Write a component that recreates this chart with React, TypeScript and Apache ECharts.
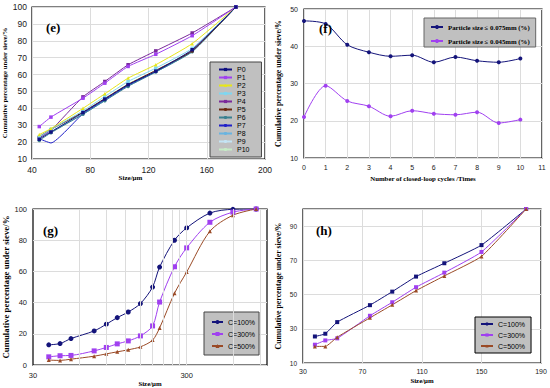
import React, { useEffect, useRef } from 'react';
import * as echarts from 'echarts';

// ---------- data ----------
// (e) sieve sizes (µm) and cumulative passing (%)
const sizesE = [45, 53, 75, 90, 106, 125, 150, 180];
const namesE = ['P0', 'P1', 'P2', 'P3', 'P4', 'P5', 'P6', 'P7', 'P8', 'P9', 'P10'];
const eP0 = [21.7, 26.0, 37.5, 45.5, 54.0, 62.0, 74.7, 100];
const eP1 = [29.2, 34.8, 46.0, 54.9, 64.8, 72.0, 83.0, 100];
const eP2 = [24.5, 28.0, 40.0, 48.6, 57.9, 65.8, 78.3, 100];
const eP3 = [23.0, 27.5, 38.5, 47.0, 55.9, 63.8, 75.5, 100];
const eP4 = [22.5, 27.0, 46.8, 55.9, 65.8, 74.0, 84.6, 100];
const eP5 = [23.2, 27.5, 37.8, 45.8, 54.2, 62.5, 74.0, 100];
const eP6 = [21.0, 25.5, 36.5, 44.5, 53.0, 61.5, 73.5, 100];
const eP7 = [22.0, 19.5, 36.8, 45.0, 53.5, 61.8, 74.0, 100];
const eP8 = [22.5, 26.0, 36.5, 44.5, 53.5, 61.5, 73.5, 100];
const eP9 = [23.0, 26.5, 37.0, 45.0, 53.8, 62.0, 74.0, 100];
const eP10 = [24.0, 27.5, 37.5, 45.5, 54.5, 62.5, 74.5, 100];

// (f) closed-loop cycles
const cycles = [0, 1, 2, 3, 4, 5, 6, 7, 8, 9, 10];
const pass075 = [46.8, 46.0, 40.4, 38.4, 37.3, 37.6, 35.7, 37.1, 36.1, 35.7, 36.7];
const pass045 = [21.0, 29.4, 25.3, 23.9, 21.2, 22.7, 21.9, 21.6, 22.3, 19.4, 20.3];
const namesF = ['Particle size \u2264 0.075mm (%)', 'Particle size \u2264 0.045mm (%)'];

// (g) log size axis
const sizesG = [38, 45, 53, 75, 90, 106, 125, 150, 180, 200, 250, 300, 425, 600, 850];
const g100 = [13.0, 13.8, 17.0, 21.9, 26.2, 30.4, 34.0, 39.4, 50.0, 62.8, 80.0, 87.9, 97.4, 99.8, 100];
const g300 = [5.3, 6.0, 6.2, 9.1, 11.3, 13.6, 15.5, 18.7, 25.1, 40.4, 63.0, 75.1, 91.5, 98.0, 100];
const g500 = [3.2, 3.0, 3.8, 5.7, 7.2, 8.5, 9.8, 11.7, 16.0, 23.8, 46.0, 59.6, 85.7, 96.0, 100];
const gTickLabels = [30, 300];
const gMinorGrid = [60, 90, 120, 150, 180, 210, 240, 270, 300, 600, 900];

// (h)
const sizesH = [38, 45, 53, 75, 90, 106, 125, 150, 180];
const h100 = [25.5, 27.1, 33.9, 43.8, 51.7, 60.5, 68.3, 78.9, 100];
const h300 = [20.7, 23.2, 24.4, 37.6, 45.5, 54.3, 62.8, 74.9, 100];
const h500 = [19.7, 19.7, 25.1, 36.4, 44.0, 52.3, 60.9, 72.3, 100];
const namesC = ['C=100%', 'C=300%', 'C=500%'];

// ---------- styles ----------
const SANS = 'Liberation Sans, Arial, sans-serif';
const SERIF = 'Liberation Serif, Times New Roman, serif';
const colorsE = ['#101080', '#a040f0', '#e6e61a', '#7fd6f0', '#7a2a9a', '#6b2a10', '#3a8090', '#2020c8', '#6ab4e0', '#c4e4f4', '#c6ecc6'];
const symbolsE = ['rect', 'rect', 'triangle', 'rect', 'rect', 'circle', 'circle', 'none', 'none', 'none', 'none'];
const NAVY = '#14147a';
const VIOLET = '#a040f0';
const BROWN = '#9a4a26';
const GRIDC = '#dcdcdc';

const zip = (xs: number[], ys: number[]) => xs.map((x, i) => [x, ys[i]]);

export default function App() {
  const ref = useRef<HTMLDivElement>(null);
  useEffect(() => {
    if (!ref.current) return;
    const chart = echarts.init(ref.current, null, { renderer: 'svg' });
    const eData = [eP0, eP1, eP2, eP3, eP4, eP5, eP6, eP7, eP8, eP9, eP10];

    const xName = (name: string, size: number, gap: number, pad: number[] = [0, 0, 0, 0]) => ({
      name, nameLocation: 'middle', nameGap: gap,
      nameTextStyle: { fontFamily: SERIF, fontWeight: 'bold', fontSize: size, color: '#000', padding: pad },
    });
    const yName = (size: number, gap: number) => ({
      name: 'Cumulative percentage under sieve/%', nameLocation: 'middle', nameGap: gap,
      nameTextStyle: { fontFamily: SERIF, fontWeight: 'bold', fontSize: size, color: '#000' },
    });
    const label = (size: number, margin: number, extra: any = {}) => ({
      fontFamily: SANS, fontSize: size, color: '#1a1a1a', margin, ...extra,
    });
    const split = { show: true, lineStyle: { color: GRIDC, width: 1 } };
    const noLine = { show: false };

    const lineSeries = (name: string, xi: number, data: number[][], color: string, symbol: string, size: number, smooth: number, z = 3) => ({
      type: 'line', name, xAxisIndex: xi, yAxisIndex: xi, data, smooth,
      symbol, symbolSize: size, showSymbol: symbol !== 'none',
      lineStyle: { color, width: 1 }, itemStyle: { color }, z,
    });

    const series: any[] = [];
    namesE.forEach((n, i) => series.push(lineSeries(n, 0, zip(sizesE, eData[i]), colorsE[i], symbolsE[i], 3.5, 0.15, 3 + (11 - i))));
    series.push(lineSeries(namesF[0], 1, zip(cycles, pass075), NAVY, 'circle', 4, 0.3));
    series.push(lineSeries(namesF[1], 1, zip(cycles, pass045), VIOLET, 'circle', 4, 0.3));
    series.push({
      type: 'line', name: 'gridlines-g', xAxisIndex: 2, yAxisIndex: 2, data: [], z: 1, silent: true,
      markLine: {
        silent: true, symbol: 'none', label: { show: false },
        lineStyle: { color: GRIDC, type: 'solid', width: 1 },
        data: gMinorGrid.map((v) => ({ xAxis: v })),
      },
    });
    series.push(lineSeries(namesC[0], 2, zip(sizesG, g100), NAVY, 'circle', 5, 0.3));
    series.push(lineSeries(namesC[1], 2, zip(sizesG, g300), VIOLET, 'rect', 5, 0.3));
    series.push(lineSeries(namesC[2], 2, zip(sizesG, g500), BROWN, 'triangle', 4, 0.3));
    series.push(lineSeries(namesC[0], 3, zip(sizesH, h100), NAVY, 'rect', 4, 0.15));
    series.push(lineSeries(namesC[1], 3, zip(sizesH, h300), VIOLET, 'rect', 4, 0.15));
    series.push(lineSeries(namesC[2], 3, zip(sizesH, h500), BROWN, 'triangle', 4, 0.15));

    const legendBase = {
      orient: 'vertical', backgroundColor: '#c0c0c0', borderColor: '#444', borderWidth: 1,
      borderRadius: 0, selectedMode: false,
    };

    const option: any = {
      animation: false,
      backgroundColor: '#ffffff',
      grid: [
        { left: 32, top: 7, width: 233, height: 152, show: true, borderColor: '#000', borderWidth: 1.2, backgroundColor: 'transparent' },
        { left: 304, top: 9, width: 238, height: 149, show: true, borderColor: '#000', borderWidth: 1.2, backgroundColor: 'transparent' },
        { left: 33, top: 209, width: 234, height: 157, show: true, borderColor: '#000', borderWidth: 1.2, backgroundColor: 'transparent' },
        { left: 303, top: 209, width: 238, height: 154, show: true, borderColor: '#000', borderWidth: 1.2, backgroundColor: 'transparent' },
      ],
      xAxis: [
        { gridIndex: 0, type: 'value', min: 40, max: 200, interval: 40, axisLine: noLine, axisTick: noLine,
          splitLine: split, axisLabel: label(8.5, 6), ...xName('Size/\u03bcm', 7, 13, [0, 36, 0, 0]) },
        { gridIndex: 1, type: 'value', min: 0, max: 11, interval: 1, axisLine: noLine, axisTick: noLine,
          splitLine: split, axisLabel: label(7, 6), ...xName('Number of closed-loop cycles /Times', 6.8, 17) },
        { gridIndex: 2, type: 'log', logBase: 10, min: 30, max: 1000, axisLine: noLine, axisTick: noLine,
          splitLine: noLine, minorSplitLine: noLine,
          axisLabel: label(7.5, 6, { customValues: gTickLabels, formatter: (v: number) => String(Math.round(v)) }),
          ...xName('Size/\u03bcm', 6.8, 13) },
        { gridIndex: 3, type: 'value', min: 30, max: 190, interval: 40, axisLine: noLine, axisTick: noLine,
          splitLine: split, axisLabel: label(7, 5), ...xName('Size/\u03bcm', 6.8, 14) },
      ],
      yAxis: [
        { gridIndex: 0, type: 'value', min: 10, max: 100, interval: 10, axisLine: noLine, axisTick: noLine,
          splitLine: split, axisLabel: label(8.5, 5), ...yName(6.8, 24) },
        { gridIndex: 1, type: 'value', min: 10, max: 50, interval: 10, axisLine: noLine, axisTick: noLine,
          splitLine: split, axisLabel: label(7, 6), ...yName(7.8, 22) },
        { gridIndex: 2, type: 'value', min: 0, max: 100, interval: 20, axisLine: noLine, axisTick: noLine,
          splitLine: split, axisLabel: label(7.5, 6), ...yName(8.8, 22) },
        { gridIndex: 3, type: 'value', min: 10, max: 100, interval: 20, axisLine: noLine, axisTick: noLine,
          splitLine: split, axisLabel: label(6.5, 6, { showMaxLabel: false }), ...yName(7.8, 21) },
      ],
      legend: [
        { ...legendBase, data: namesE, left: 210, top: 62, padding: [4, 12, 4, 8],
          itemWidth: 13, itemHeight: 4, itemGap: 1,
          textStyle: { fontFamily: SANS, fontSize: 7, lineHeight: 7, color: '#000' } },
        { ...legendBase, data: namesF, left: 424, top: 18, padding: [5, 6, 2, 6],
          itemWidth: 12, itemHeight: 5, itemGap: 6, borderColor: '#666',
          textStyle: { fontFamily: SERIF, fontWeight: 'bold', fontSize: 6.8, lineHeight: 8, color: '#000' } },
        { ...legendBase, data: namesC, left: 204, top: 312, padding: [6, 4, 5, 7],
          itemWidth: 11, itemHeight: 5, itemGap: 4,
          textStyle: { fontFamily: SANS, fontSize: 7, lineHeight: 8, color: '#000' } },
        { ...legendBase, data: namesC, left: 475, top: 317, padding: [3, 6, 3, 5],
          itemWidth: 12, itemHeight: 4, itemGap: 3, borderColor: '#000',
          textStyle: { fontFamily: SANS, fontSize: 7, lineHeight: 8, color: '#000' } },
      ],
      graphic: [
        { type: 'text', left: 46, top: 21, z: 100, style: { text: '(e)', fontFamily: SERIF, fontWeight: 'bold', fontSize: 13, fill: '#000' } },
        { type: 'text', left: 319, top: 22, z: 100, style: { text: '(f)', fontFamily: SERIF, fontWeight: 'bold', fontSize: 13, fill: '#000' } },
        { type: 'text', left: 43, top: 224, z: 100, style: { text: '(g)', fontFamily: SERIF, fontWeight: 'bold', fontSize: 13, fill: '#000' } },
        { type: 'text', left: 316, top: 224, z: 100, style: { text: '(h)', fontFamily: SERIF, fontWeight: 'bold', fontSize: 13, fill: '#000' } },
      ],
      series,
    };
    chart.setOption(option);
    return () => chart.dispose();
  }, []);
  return <div ref={ref} style={{ position: 'fixed', left: 0, top: 0, width: 550, height: 388, background: '#fff' }} />;
}
